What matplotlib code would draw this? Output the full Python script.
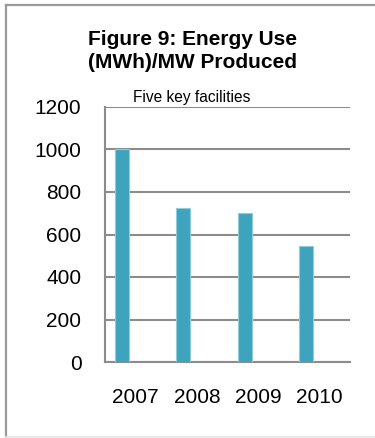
import matplotlib
matplotlib.use("Agg")
import matplotlib.pyplot as plt
from matplotlib.lines import Line2D
import numpy as np

plt.rcParams['font.family'] = ['Liberation Sans', 'DejaVu Sans']

# data
years = ['2007', '2008', '2009', '2010']
energy_use = [1000, 727, 700, 544]
y_ticks = [0, 200, 400, 600, 800, 1000, 1200]

W, H = 375, 438
fig = plt.figure(figsize=(W / 100, H / 100), dpi=100)

# outer frame of the chart: grey left + top, faint bottom, right side cut off
def px_line(xs, ys, color, lw):
    fig.lines.append(Line2D([v / W for v in xs], [1 - v / H for v in ys],
                            transform=fig.transFigure, color=color, lw=lw, zorder=0))

px_line([5.5, 5.5], [4.5, 436.5], '#9a9a9a', 1.6)
px_line([5.5, 375], [4.5, 4.5], '#9a9a9a', 1.6)
px_line([5.5, 375], [437, 437], '#e6e6e6', 1.2)

ax = fig.add_axes([105 / W, 1 - 362 / H, 245 / W, 255 / H])

x = np.arange(len(years))
ax.bar(x - 0.222, energy_use, width=0.228, color='#3ea3bc', edgecolor='#8fcddb', lw=0.8, zorder=3)

ax.set_xlim(-0.5, len(years) - 0.5)
ax.set_ylim(0, 1200)
ax.set_yticks(y_ticks)
ax.set_yticklabels([str(v) for v in y_ticks])
ax.set_xticks(x)
ax.set_xticklabels(years)
ax.tick_params(axis='y', length=0, pad=17, labelsize=15)
ax.tick_params(axis='x', length=0, pad=19, labelsize=15)
ax.yaxis.grid(True, color='#8c8c8c', lw=1.5, zorder=1)
ax.set_axisbelow(True)
for s in ['top', 'right']:
    ax.spines[s].set_visible(False)
ax.spines['left'].set_color('#8c8c8c')
ax.spines['left'].set_linewidth(1.5)
ax.spines['bottom'].set_color('#8c8c8c')
ax.spines['bottom'].set_linewidth(1.5)

fig.text(192 / W, 1 - 45 / H, 'Figure 9: Energy Use', ha='center', va='baseline',
         fontsize=15, fontweight='bold')
fig.text(192 / W, 1 - 68 / H, '(MWh)/MW Produced', ha='center', va='baseline',
         fontsize=15, fontweight='bold')
fig.text(133 / W, 1 - 102 / H, 'Five key facilities', ha='left', va='baseline', fontsize=11.2)

fig.savefig('out.png', dpi=100)
